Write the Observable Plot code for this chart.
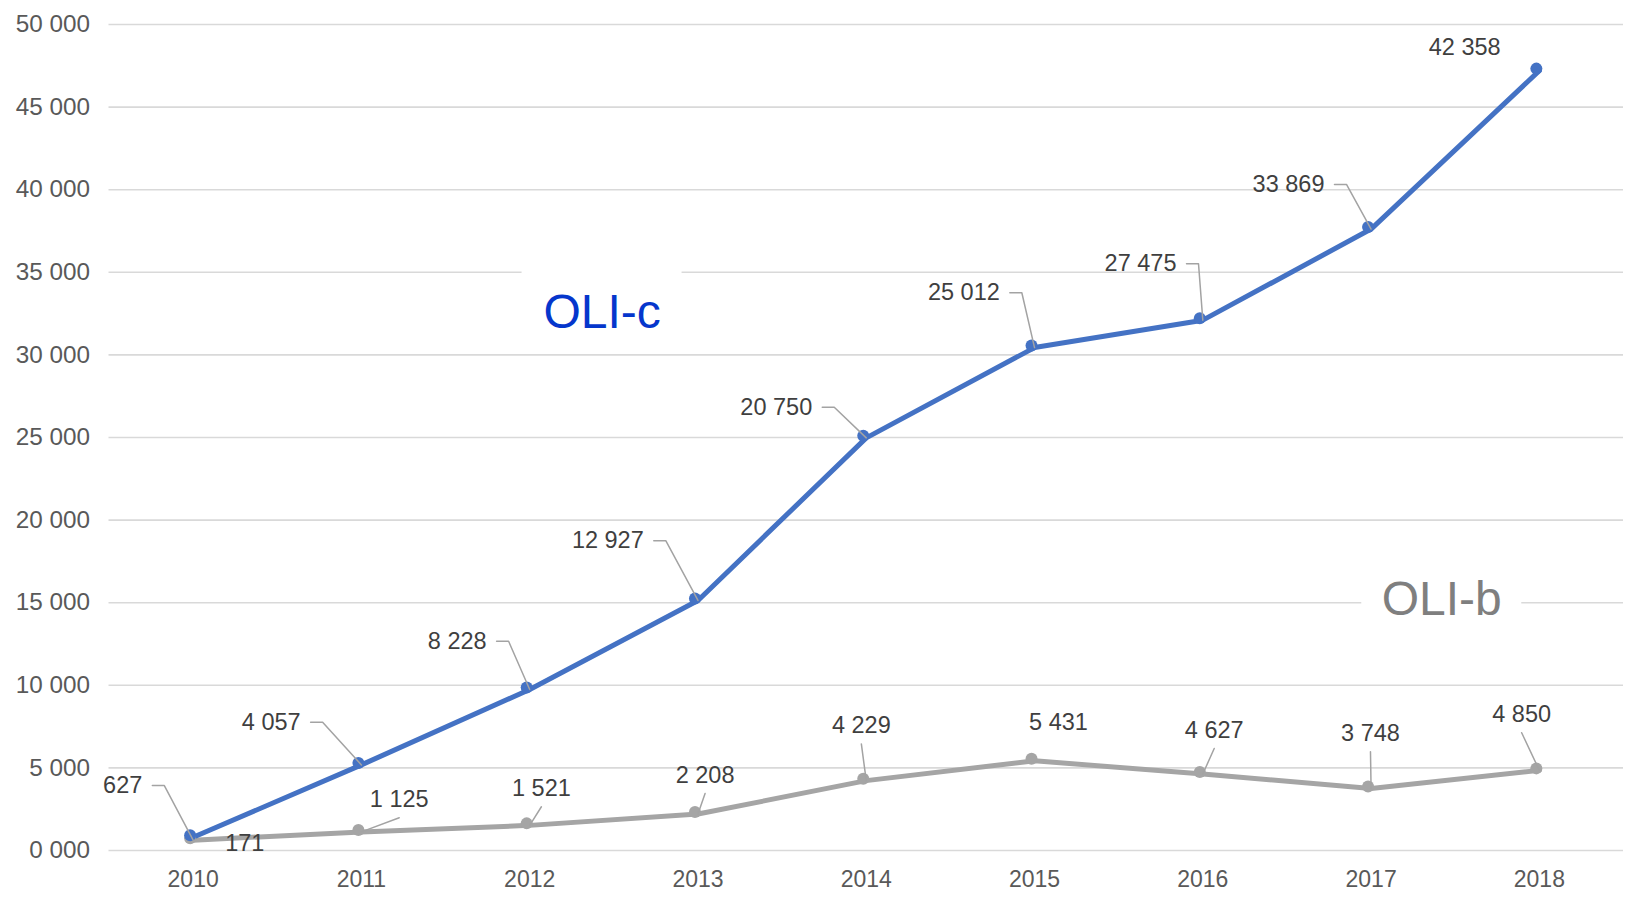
<!DOCTYPE html>
<html>
<head>
<meta charset="utf-8">
<script src="https://cdn.jsdelivr.net/npm/d3@7"></script>
<script src="https://cdn.jsdelivr.net/npm/@observablehq/plot@0.6"></script>
<style>
  html, body { margin: 0; padding: 0; background: #ffffff; }
  #chart svg { display: block; }
</style>
</head>
<body>
<div id="chart"></div>
<script>
// ---------------- data ----------------
const years = [2010, 2011, 2012, 2013, 2014, 2015, 2016, 2017, 2018];
const oliB = [627, 1125, 1521, 2208, 4229, 5431, 4627, 3748, 4850];      // grey series (bottom)
const oliC = [171, 4057, 8228, 12927, 20750, 25012, 27475, 33869, 42358]; // blue series (stacked on top)
const yTicks = [0, 5000, 10000, 15000, 20000, 25000, 30000, 35000, 40000, 45000, 50000];
const yTickLabels = ["0 000", "5 000", "10 000", "15 000", "20 000", "25 000", "30 000", "35 000", "40 000", "45 000", "50 000"];
const seriesNames = ["OLI-b", "OLI-c"];
// series name label positions (data space)
const nameB = {year: 2017.42, value: 15190};
const nameC = {year: 2012.43, value: 32540};

// ---------------- layout / style ----------------
const W = 1632, H = 901, ML = 108.5, MR = 9, MT = 24, MB = 51;
const xDomain = [2009.5, 2018.5], yDomain = [0, 50000];
const kx = (W - ML - MR) / (xDomain[1] - xDomain[0]);
const ky = (H - MT - MB) / (yDomain[1] - yDomain[0]);
const COLOR_B = "#a5a5a5", COLOR_C = "#4472c4";
const LABEL_FILL = "#3f3f3f", LEADER = "#a3a3a3", AXIS_FILL = "#595959";

// label placement (pixel offsets relative to the point)
const layoutB = [
  {anchor: "end", dx: -50.8, dy: -54.6, leader: "elbow"},
  {anchor: "middle", dx: 37.8, dy: -32.1, leader: "straight"},
  {anchor: "middle", dx: 11.7, dy: -36.6, leader: "straight"},
  {anchor: "middle", dx: 7.1, dy: -38.5, leader: "straight"},
  {anchor: "middle", dx: -4.9, dy: -54.7, leader: "straight"},
  {anchor: "middle", dx: 24, dy: -38.6, leader: "none"},
  {anchor: "middle", dx: 11.4, dy: -43.6, leader: "straight"},
  {anchor: "middle", dx: -0.6, dy: -54.8, leader: "straight"},
  {anchor: "middle", dx: -17.7, dy: -55.6, leader: "straight"}
];
const layoutC = [
  {anchor: "middle", dx: 51.7, dy: 6.5, leader: "none"},
  {anchor: "end", dx: -60.8, dy: -42.7, leader: "elbow"},
  {anchor: "end", dx: -43.1, dy: -48.2, leader: "elbow"},
  {anchor: "end", dx: -54.2, dy: -59.8, leader: "elbow"},
  {anchor: "end", dx: -54, dy: -30.6, leader: "elbow"},
  {anchor: "end", dx: -34.7, dy: -54.8, leader: "elbow"},
  {anchor: "end", dx: -26.3, dy: -56.4, leader: "elbow"},
  {anchor: "end", dx: -46.6, dy: -44.6, leader: "elbow"},
  {anchor: "middle", dx: -74.7, dy: -23.4, leader: "none"}
];

// ---------------- derived tables ----------------
const fmt = v => d3.format(",")(v).replace(/,/g, " ");
const px2x = (year, dpx) => year + dpx / kx;
const px2y = (value, dpx) => value - dpx / ky;

const rowsB = years.map((year, i) => ({year, value: oliB[i], raw: oliB[i]}));
const rowsC = years.map((year, i) => ({year, value: oliB[i] + oliC[i], raw: oliC[i]}));

const labels = [];
const leaders = [];
function addLabels(rows, layout, key) {
  rows.forEach((r, i) => {
    const L = layout[i];
    const lx = px2x(r.year, L.dx), ly = px2y(r.value, L.dy);
    labels.push({x: lx, y: ly, text: fmt(r.raw), anchor: L.anchor});
    const id = key + i;
    if (L.leader === "elbow") {
      leaders.push({id, x: px2x(r.year, L.dx + 10), y: ly});
      leaders.push({id, x: px2x(r.year, L.dx + 22), y: ly});
      leaders.push({id, x: r.year, y: r.value});
    } else if (L.leader === "straight") {
      leaders.push({id, x: lx, y: px2y(r.value, L.dy + 18)});
      leaders.push({id, x: r.year, y: r.value});
    }
  });
}
addLabels(rowsB, layoutB, "b");
addLabels(rowsC, layoutC, "c");

const names = [
  {x: nameB.year, y: nameB.value, text: seriesNames[0], color: "#7f7f7f"},
  {x: nameC.year, y: nameC.value, text: seriesNames[1], color: "#0536cc"}
];
const boxes = names.map(n => ({
  x1: px2x(n.x, -80), x2: px2x(n.x, 80),
  y1: px2y(n.y, -48), y2: px2y(n.y, 32)
}));

// ---------------- axes ----------------
const hasAxisMarks = typeof Plot.axisX === "function";
const axisMarks = hasAxisMarks ? [
  Plot.axisX(years, {tickSize: 0, tickPadding: 20, tickFormat: d => String(d), fontSize: 23, fill: AXIS_FILL, label: null}),
  Plot.axisY(yTicks, {tickSize: 0, tickPadding: 19, tickFormat: d => yTickLabels[yTicks.indexOf(d)], fontSize: 24.3, fill: AXIS_FILL, label: null})
] : [];

// ---------------- chart ----------------
const chart = Plot.plot({
  width: W, height: H,
  marginLeft: ML, marginRight: MR, marginTop: MT, marginBottom: MB,
  style: {fontFamily: "'Liberation Sans', Arial, sans-serif", fontSize: "23px", color: AXIS_FILL, background: "#ffffff"},
  x: {type: "linear", domain: xDomain, ticks: years, tickFormat: d => String(d), tickSize: 0, tickPadding: 20, label: null, axis: hasAxisMarks ? null : "bottom"},
  y: {domain: yDomain, ticks: yTicks, tickFormat: d => yTickLabels[yTicks.indexOf(d)], tickSize: 0, tickPadding: 19, label: null, axis: hasAxisMarks ? null : "left"},
  marks: [
    ...axisMarks,
    Plot.ruleY(yTicks, {stroke: "#d9d9d9", strokeWidth: 1.6}),
    Plot.rect(boxes, {x1: "x1", x2: "x2", y1: "y1", y2: "y2", fill: "#ffffff"}),
    Plot.line(rowsB, {x: "year", y: "value", stroke: COLOR_B, strokeWidth: 5, strokeLinejoin: "round"}),
    Plot.line(rowsC, {x: "year", y: "value", stroke: COLOR_C, strokeWidth: 5, strokeLinejoin: "round"}),
    Plot.dot(rowsB, {x: "year", y: "value", r: 6, fill: COLOR_B, dx: -3, dy: -2}),
    Plot.dot(rowsC, {x: "year", y: "value", r: 6, fill: COLOR_C, dx: -3, dy: -2}),
    Plot.line(leaders, {x: "x", y: "y", z: "id", stroke: LEADER, strokeWidth: 1.5}),
    Plot.text(labels.filter(d => d.anchor === "end"), {x: "x", y: "y", text: "text", textAnchor: "end", fill: LABEL_FILL, fontSize: 23.5}),
    Plot.text(labels.filter(d => d.anchor === "middle"), {x: "x", y: "y", text: "text", textAnchor: "middle", fill: LABEL_FILL, fontSize: 23.5}),
    Plot.text(names, {x: "x", y: "y", text: "text", fill: "color", fontSize: 48, textAnchor: "middle"})
  ]
});
document.getElementById("chart").appendChild(chart);
</script>
</body>
</html>
